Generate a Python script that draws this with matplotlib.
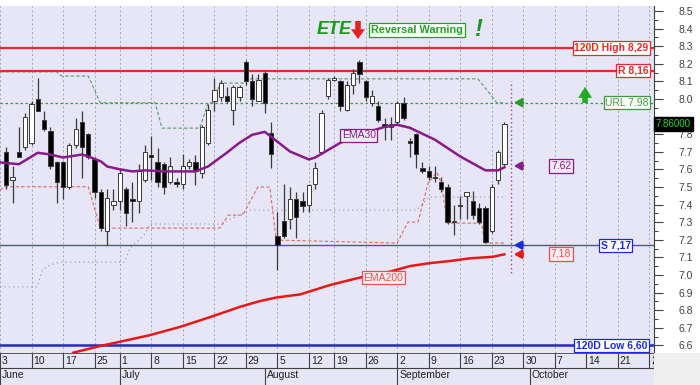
import numpy as np
import pandas as pd
import matplotlib
matplotlib.use("Agg")
from matplotlib import pyplot as plt
from matplotlib.patches import Rectangle

plt.rcParams['font.family'] = ['Liberation Sans', 'DejaVu Sans']

# trading calendar (exchange holidays removed)
holidays = pd.to_datetime(['2013-06-24', '2013-08-15', '2013-10-28'])
days = pd.bdate_range('2013-06-03', '2013-10-29')
days = days[~days.isin(holidays)]
first_candle = pd.Timestamp('2013-06-04')

opens = [7.70, 7.54, 7.70, 7.73, 7.75, 8.00, 7.88, 7.82, 7.64, 7.64,
         7.50, 7.74, 7.87, 7.80, 7.66, 7.47, 7.25, 7.40, 7.42, 7.49,
         7.43, 7.42, 7.54, 7.68, 7.64, 7.63, 7.53, 7.53, 7.52, 7.62,
         7.64, 7.58, 7.75, 7.99, 8.01, 8.02, 7.94, 8.01, 8.21, 8.10,
         7.99, 8.15, 7.81, 7.22, 7.31, 7.32, 7.43, 7.42, 7.40, 7.52,
         7.70, 8.02, 8.11, 8.10, 7.94, 8.08, 8.21, 8.10, 7.98, 7.96,
         7.86, 7.84, 7.87, 7.98, 7.76, 7.80, 7.61, 7.59, 7.56, 7.53,
         7.50, 7.30, 7.40, 7.45, 7.42, 7.38, 7.38, 7.25, 7.54, 7.63]
highs = [7.73, 7.62, 7.84, 7.92, 7.99, 8.12, 7.93, 7.84, 7.65, 7.65,
         7.75, 7.89, 7.93, 7.81, 7.67, 7.49, 7.49, 7.49, 7.61, 7.50,
         7.53, 7.63, 7.74, 7.79, 7.72, 7.64, 7.67, 7.55, 7.69, 7.66,
         7.68, 7.85, 7.97, 8.12, 8.11, 8.07, 8.08, 8.08, 8.22, 8.14,
         8.14, 8.16, 7.87, 7.36, 7.52, 7.50, 7.47, 7.47, 7.52, 7.64,
         7.94, 8.12, 8.13, 8.11, 8.10, 8.17, 8.22, 8.11, 8.05, 7.99,
         7.89, 7.90, 7.99, 8.01, 7.78, 7.81, 7.64, 7.62, 7.62, 7.56,
         7.52, 7.40, 7.45, 7.47, 7.48, 7.41, 7.39, 7.52, 7.71, 7.87]
lows = [7.49, 7.41, 7.67, 7.71, 7.74, 7.93, 7.82, 7.60, 7.41, 7.43,
        7.49, 7.72, 7.55, 7.66, 7.44, 7.25, 7.17, 7.37, 7.37, 7.28,
        7.30, 7.35, 7.53, 7.54, 7.50, 7.46, 7.52, 7.50, 7.49, 7.60,
        7.51, 7.55, 7.74, 7.93, 7.99, 7.98, 7.85, 7.99, 8.08, 7.96,
        7.99, 7.92, 7.61, 7.03, 7.21, 7.26, 7.21, 7.36, 7.36, 7.49,
        7.69, 8.00, 8.10, 7.93, 7.93, 8.03, 8.09, 7.99, 7.96, 7.87,
        7.77, 7.77, 7.85, 7.88, 7.67, 7.61, 7.58, 7.54, 7.53, 7.47,
        7.29, 7.23, 7.32, 7.32, 7.32, 7.29, 7.18, 7.24, 7.52, 7.62]
closes = [7.51, 7.56, 7.67, 7.90, 7.97, 7.93, 7.83, 7.62, 7.53, 7.50,
          7.74, 7.83, 7.73, 7.67, 7.47, 7.27, 7.44, 7.42, 7.58, 7.35,
          7.42, 7.59, 7.70, 7.67, 7.53, 7.50, 7.62, 7.52, 7.62, 7.64,
          7.59, 7.84, 7.94, 8.05, 8.09, 7.99, 8.07, 8.07, 8.10, 8.00,
          8.11, 7.98, 7.69, 7.17, 7.22, 7.43, 7.33, 7.39, 7.51, 7.61,
          7.92, 8.11, 8.12, 7.96, 8.08, 8.15, 8.14, 8.01, 8.02, 7.88,
          7.84, 7.86, 7.98, 7.89, 7.75, 7.69, 7.59, 7.56, 7.55, 7.49,
          7.30, 7.31, 7.39, 7.47, 7.34, 7.30, 7.19, 7.50, 7.70, 7.86]

ema30_day = [0, 3, 6, 8, 10, 13, 14, 16, 17, 19, 21, 23, 26, 31, 33, 36, 38,
             40, 42, 43, 46, 49, 50, 54, 58, 61, 63, 65, 69, 73, 77, 79, 80]
ema30_val = [7.64, 7.63, 7.695, 7.685, 7.668, 7.685, 7.674, 7.646, 7.617,
             7.601, 7.589, 7.595, 7.589, 7.589, 7.617, 7.696, 7.752, 7.797,
             7.814, 7.786, 7.702, 7.657, 7.668, 7.752, 7.808, 7.842, 7.854,
             7.837, 7.769, 7.674, 7.595, 7.595, 7.612]

ema200_day = [11.6, 15.9, 19, 23.8, 28.5, 33.3, 38.1, 41.2, 43.9, 47.6,
              52.3, 55.5, 57.6, 61.8, 65, 68.2, 71.4, 74.5, 78.2, 80]
ema200_val = [6.559, 6.597, 6.621, 6.659, 6.705, 6.761, 6.820, 6.852, 6.873,
              6.890, 6.943, 6.972, 6.990, 7.019, 7.051, 7.068, 7.080, 7.095,
              7.104, 7.118]

upper_day = [0, 9.0, 9.8, 14.0, 15.9, 24.6, 25.7, 31.7, 33.0, 33.8, 34.9,
             38.9, 39.6, 75.8, 77.7, 78.8, 80]
upper_val = [8.155, 8.155, 8.131, 8.131, 7.979, 7.979, 7.835, 7.835, 7.979,
             7.979, 8.091, 8.091, 8.115, 8.115, 8.03, 7.979, 7.979]

lower_day = [0, 0.8, 14.0, 15.9, 34.9, 36.2, 38.5, 40.9, 42.8, 43.8, 63,
             64.7, 66.3, 67.9, 69.3, 70.1, 70.9, 76.4, 76.9, 80.1]
lower_val = [7.483, 7.502, 7.502, 7.267, 7.267, 7.341, 7.341, 7.500, 7.500,
             7.199, 7.182, 7.301, 7.301, 7.523, 7.585, 7.511, 7.295, 7.295,
             7.182, 7.182]

trail_day = [0, 5.9, 6.7, 7.9, 9.5, 19.8, 20.6, 23.0, 23.8, 34.9, 39.6,
             66.1, 68.0, 77.4, 80.1]
trail_val = [6.933, 6.933, 7.028, 7.057, 7.074, 7.074, 7.153, 7.233, 7.290,
             7.290, 7.369, 7.369, 7.443, 7.443, 7.443]

high120 = 8.29
resist = 8.16
url = 7.98
support = 7.17
low120 = 6.60
ema30_last = 7.62
stop_last = 7.18
last_price = 7.86

bg = '#E6E6F6'
fig = plt.figure(figsize=(7, 3.85), dpi=100)
fig.patches.append(Rectangle((0.934, 0), 0.066, 0.083, transform=fig.transFigure,
                             fc='#EFEFEF', ec='none', zorder=0))
ax = fig.add_axes([0, 0.083, 0.934, 0.901])
ax.set_facecolor(bg)
xmax = 103.7
ax.set_xlim(0, xmax)
ax.set_ylim(6.557, 8.528)

week_idx = [i for i, d in enumerate(days) if i == 0 or d.weekday() < days[i - 1].weekday()]
month_idx = [i for i, d in enumerate(days) if i == 0 or d.month != days[i - 1].month]

for w in week_idx:
    ax.axvline(w, color='#A4A4B4', lw=0.7, ls=(0, (2, 2.5)), zorder=1)

# levels
ax.axhline(high120, color='#E8282C', lw=1.6, zorder=3)
ax.axhline(resist, color='#E8282C', lw=1.6, zorder=3)
ax.axhline(url, color='#3C9A3C', lw=0.9, ls=(0, (2, 2)), zorder=2)
ax.axhline(support, color='#4A4AD8', lw=1.0, zorder=3)
ax.axhline(low120, color='#2828C8', lw=1.8, zorder=3)

ax.plot(upper_day, upper_val, color='#5A9A6A', lw=0.8, ls=(0, (3, 2)), zorder=2)
ax.plot(lower_day, lower_val, color='#E06868', lw=0.8, ls=(0, (3, 2)), zorder=2)
ax.plot(trail_day, trail_val, color='#9090A0', lw=0.8, ls=(0, (1, 3)), zorder=2)

x0 = days.get_loc(first_candle)
xs = x0 + np.arange(len(opens))
for x, o, h, l, c in zip(xs, opens, highs, lows, closes):
    ax.vlines(x, l, h, color='#3A3A3A', lw=0.9, zorder=4)
    fc = 'white' if c >= o else 'black'
    ax.add_patch(Rectangle((x - 0.34, min(o, c)), 0.68, max(abs(c - o), 0.008),
                           fc=fc, ec='#3A3A3A', lw=0.7, zorder=5))

ax.plot(ema30_day, ema30_val, color='#8A1A8A', lw=1.8, zorder=6)
ax.plot(ema200_day, ema200_val, color='#E81818', lw=1.8, zorder=6)

last = xs[-1]
ax.vlines(last + 1, 7.01, 8.10, color='#A040A0', lw=1.0, ls=(0, (1, 2)), zorder=6)

for val, col in [(url, '#2A9A2A'), (ema30_last, '#8A1A8A'),
                 (support, '#1A2AE0'), (ema200_val[-1], '#E81818')]:
    ax.annotate('', xy=(last + 1.5, val), xytext=(last + 3.0, val),
                arrowprops=dict(arrowstyle='-|>,head_width=0.25,head_length=0.45',
                                lw=1.6, color=col, shrinkA=0, shrinkB=0), zorder=7)

ax.annotate('', xy=(92.8, 8.07), xytext=(92.8, 7.978),
            arrowprops=dict(arrowstyle='simple,head_width=1.0,head_length=0.8,tail_width=0.4',
                            color='#22AA22', lw=0, shrinkA=0, shrinkB=0), zorder=7)

yt = ax.get_yaxis_transform()


def box(x, y, s, col, bold=True, ha='right', fc='white', tr=yt):
    ax.text(x, y, s, transform=tr, ha=ha, va='center', fontsize=7.5, color=col,
            fontweight='bold' if bold else 'normal', zorder=8,
            bbox=dict(boxstyle='square,pad=0.15', fc=fc, ec=col, lw=0.9))


box(0.992, high120, '120D High 8,29', '#E8282C')
box(0.992, resist, 'R 8,16', '#E8282C')
box(0.992, url, 'URL 7.98', '#3C9A3C', bold=False)
box(0.965, support, 'S 7,17', '#1A2AE0')
box(0.990, low120, '120D Low 6,60', '#1A2AE0')
box(89.0, ema30_last, '7.62', '#8A1A8A', bold=False, ha='center', fc='#F2ECF8', tr=ax.transData)
box(89.0, 7.12, '7,18', '#E85050', bold=False, ha='center', fc='#FBEFF2', tr=ax.transData)
box(56.9, 7.795, 'EMA30', '#8A1A8A', bold=False, ha='center', fc='#F2ECF8', tr=ax.transData)
box(60.8, 6.985, 'EMA200', '#E85050', bold=False, ha='center', fc='#FBEFF2', tr=ax.transData)

# right price axis (the 7.9 label sits under the last-price box)
ticks = np.round(np.arange(6.6, 8.51, 0.1), 1)
ax.yaxis.tick_right()
ax.set_yticks(ticks)
ax.set_yticklabels(['' if abs(t - 7.9) < 1e-6 else '%.1f' % t for t in ticks])
ax.set_yticks(np.round(np.arange(6.65, 8.5, 0.1), 2), minor=True)
ax.tick_params(axis='y', which='major', length=6.5, width=0.8, color='#404040',
               labelsize=7.5, labelcolor='#404040', pad=11)
ax.tick_params(axis='y', which='minor', length=3.2, width=0.7, color='#404040')
ax.set_xticks([])
for s in ['left', 'top', 'bottom']:
    ax.spines[s].set_visible(False)
ax.spines['right'].set_color('#404040')
ax.text(1.003, last_price, '7.86000', transform=yt, ha='left', va='center',
        fontsize=7, color='#22DD22', zorder=9, clip_on=False,
        bbox=dict(boxstyle='square,pad=0.2', fc='black', ec='black'))

# date strip
axd = fig.add_axes([0, 0, 0.934, 0.083])
axd.set_facecolor(bg)
axd.set_xlim(0, xmax)
axd.set_ylim(0, 1)
axd.set_xticks([])
axd.set_yticks([])
for s in axd.spines.values():
    s.set_visible(False)
axd.axhline(1, color='#404040', lw=1.2)
axd.axhline(0.53, color='#404040', lw=0.8)
for w in week_idx:
    axd.vlines(w, 0.53, 1, color='#404040', lw=0.8)
    axd.text(w + 0.3, 0.74, str(days[w].day), fontsize=7.5, color='#202020',
             ha='left', va='center', clip_on=True)
for m in month_idx:
    axd.vlines(m, 0, 0.53, color='#404040', lw=0.8)
    axd.text(m + 0.3, 0.3, days[m].strftime('%B'), fontsize=7.5, color='#202020',
             ha='left', va='center', clip_on=True)
axd.vlines(xmax, 0.53, 1, color='#404040', lw=1.0)

# signal header
fig.text(317 / 700, 1 - 29 / 385, 'ETE', fontsize=13, fontweight='bold', style='italic',
         color='#1A9A1A', va='center', ha='left')
ax.annotate('', xy=(358 / 700, 1 - 39 / 385), xytext=(358 / 700, 1 - 21 / 385),
            xycoords='figure fraction', textcoords='figure fraction',
            arrowprops=dict(arrowstyle='simple,head_width=1.0,head_length=0.7,tail_width=0.4',
                            color='#E82020', lw=0, shrinkA=0, shrinkB=0))
fig.text(371 / 700, 1 - 30 / 385, 'Reversal Warning', fontsize=7.8, fontweight='bold',
         color='#2A9A2A', va='center', ha='left',
         bbox=dict(boxstyle='square,pad=0.15', fc='white', ec='#2A9A2A', lw=0.9))
fig.text(478 / 700, 1 - 29 / 385, '!', fontsize=17, fontweight='bold', style='italic',
         color='#1A9A1A', va='center', ha='center')

fig.savefig('out.png', dpi=100, facecolor='white')
